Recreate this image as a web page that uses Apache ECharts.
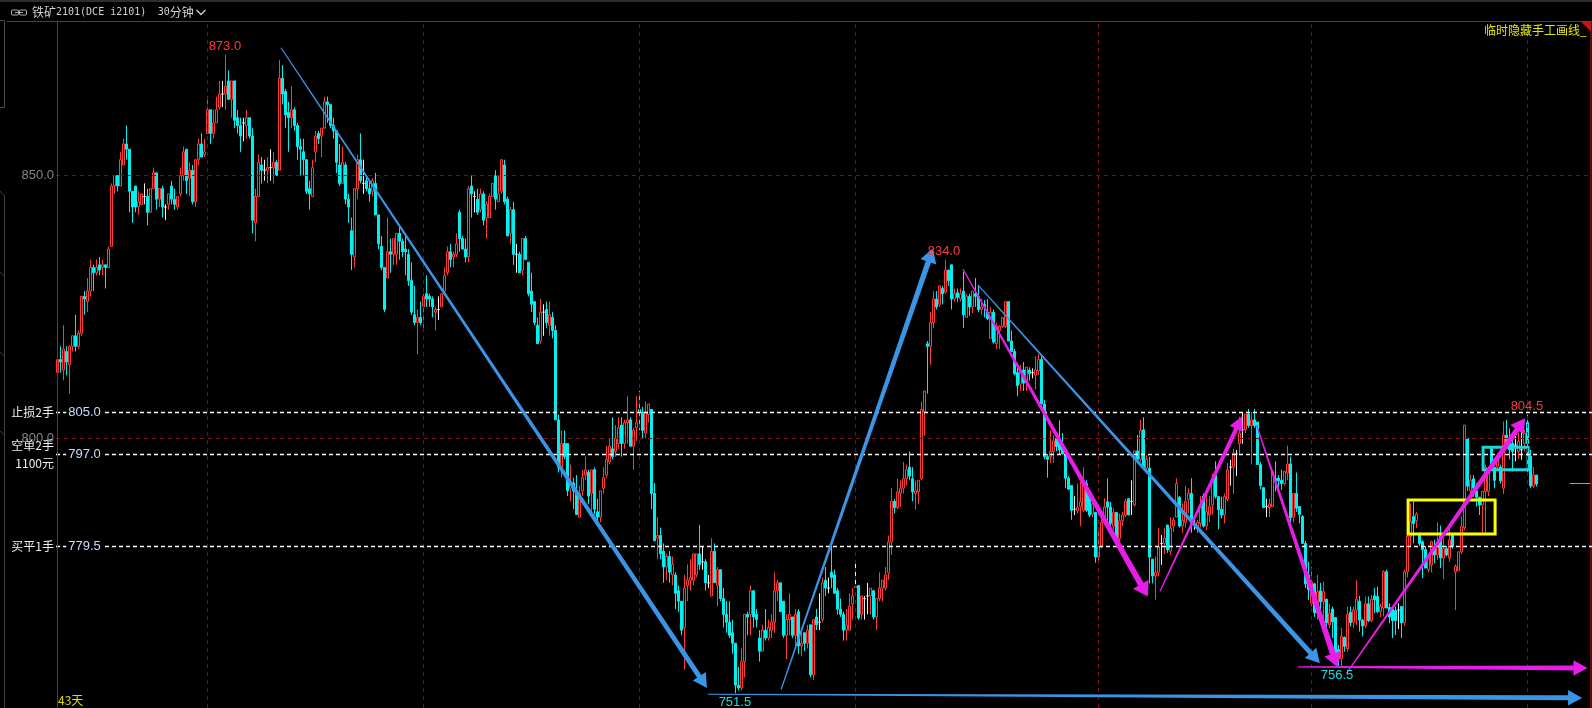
<!DOCTYPE html>
<html><head><meta charset="utf-8">
<style>html,body{margin:0;padding:0;background:#000;overflow:hidden}#c{width:1592px;height:708px}</style>
<script src="https://cdn.jsdelivr.net/npm/echarts@6/dist/echarts.min.js"></script>
</head><body><div id="c"></div>
<script>
// each row: open, close, low, high
const candleRows=[
[812.5,815,811.5,816.5],[815,814.5,812.5,817.5],[813,817,811,821.5],[816.5,814.5,812,817.5],[814,817.5,808.5,817.5],[817.5,819.5,816.5,819.5],[819.5,817.5,816.5,823.5],[817.5,820,817,820.5],[820,827,819.5,827],[827,826.5,823.5,828],
[826,828,824,830.5],[828,832.5,827,834],[832.5,831.5,828,833],[831.5,832.5,831,834],[833,832,831,834.5],[832.5,833,831,834],[833,832.5,828.5,833],[832.5,836,832.5,836.5],[836.5,848,836.5,848.5],[848,850,846.5,850],
[850,848,847,850],[848,853,848,854.5],[852,856,852,857],[856,855,853,859.5],[855,847,843,855],[847,844,841,847],[848,844,843,848],[844,845,842.5,847],[844.5,846.5,844.5,846.5],[846,846,844.5,848.5],
[846,843,840.5,847.5],[843,847.5,843,847.5],[847.5,850.5,847.5,851.5],[850.5,845.5,843.5,850.5],[845.5,847.5,844,847.5],[847.5,844,842,848],[844,844,841.5,844.5],[844.5,846.5,843.5,846.5],[848,845.5,844.5,849],[845.5,844.5,843.5,847.5],
[844,846,843.5,846],[846.5,850,846,851.5],[850,854.5,849,855.5],[855,849,846.5,855],[849.5,851,846,852.5],[851,845,844.5,852],[845,853,844,853],[853,856,852,857],[856,853.5,853.5,858],[854,854.5,853.5,857],
[858,862.5,858,865],[862.5,858,856,862.5],[858,860,857,862.5],[860,862.5,860,865],[863,865.5,862.5,868],[865.5,865.5,863,868],[865.5,867,862.5,873],[868,864.5,864.5,870],[864.5,868,861,868],[868,860.5,859,868],
[861,859.5,858,862.5],[859.5,857.5,854.5,861],[860,860,856.5,861],[859.5,861,857,862.5],[861,857.5,857,861],[857.5,841.5,839,859],[841,846,837.5,847.5],[846,852.5,846,854],[852,851,848.5,853.5],[851,851,849,853],
[851,851.5,848.5,853.5],[851.5,851.5,849,855],[851.5,852.5,848.5,854.5],[852.5,850,850,853],[851,868.5,851,872],[868.5,865.5,863.5,871],[866,861.5,859,866.5],[862,861,854.5,864],[861,862.5,859,867],[862.5,859.5,858.5,863],
[859.5,855.5,853,860],[855.5,855,850,857],[854.5,853,850,857],[853,847,846.5,853],[847.5,846.5,843.5,849],[846,851.5,846,853],[854.5,857.5,852.5,858.5],[858,857,856,858.5],[857.5,859,853.5,859],[859,864,859,865],
[864,863.5,860,865],[863.5,859.5,859,863.5],[859.5,858.5,857,861],[858.5,852.5,850.5,858.5],[852,848.5,848,856],[848.5,852.5,848.5,855.5],[852,845.5,844.5,852.5],[845.5,844,841,846.5],[839.5,835,832,842],[834.5,847.5,832.5,847.5],
[847.5,853,845.5,854],[853,849,848.5,858],[848.5,848.5,846.5,853],[849,847.5,847,850],[847.5,846.5,845,849],[847,849,846,849.5],[848.5,842.5,842.5,850.5],[842.5,837,836,842.5],[836.5,832.5,832,838.5],[832.5,824.5,824,832.5],
[830.5,835.5,830.5,842],[835.5,835,831.5,838],[835,838,833,838],[835,839,833,839],[839,837.5,834,840.5],[837.5,835.5,834.5,838],[836,835.5,831,839],[835,830,829,836],[830,824,823.5,833.5],[823.5,822,821.5,829],
[822,823,816,824.5],[823,822,821.5,826],[825,827,821,827.5],[827.5,826.5,825,831],[827,826.5,825,827.5],[826.5,825,823,827],[824,824.5,820.5,825],[824.5,824.5,822.5,827],[825,827.5,825,827.5],[828,831,827.5,832.5],
[831.5,835.5,831,836.5],[835.5,834,832.5,837],[834.5,835,832.5,835.5],[835,837,834.5,839],[843,838,835.5,843.5],[838,836,836,838.5],[836,834.5,833.5,838],[834.5,847.5,833.5,848],[848,846.5,842,850],[846,846,843,847],
[845.5,843,842.5,847.5],[843.5,846.5,843,847.5],[846.5,841.5,840.5,847],[842,844.5,838,845],[842,846,842,846.5],[846,848.5,846,848.5],[850,845.5,843.5,851],[845,846.5,845,850],[847,853,846.5,853],[852,845,844.5,853],
[845.5,838.5,838.5,846],[839,843.5,837,844],[843.5,835,833,845],[835,835,831.5,837],[835,831.5,831.5,835.5],[832,838,831,838],[838,834,834,838.5],[833.5,827.5,827,833.5],[828,825.5,824,831.5],[826,822,821.5,826],
[821.5,818,818,823],[818.5,824,818,826.5],[824,824,819.5,825.5],[824.5,822,821,826],[821.5,823.5,819.5,826],[823,820.5,819,824],[820.5,803.5,803.5,821.5],[803.5,794.5,793.5,804.5],[794.5,799,792.5,801.5],[799,796.5,796,801.5],
[799,790,789,799],[790.5,791.5,788,795],[791.5,790,786.5,792.5],[790,785.5,785.5,793],[785,789.5,785,791],[790,792.5,789,794],[793,794,792,796.5],[793.5,789,787.5,794],[789.5,794,786,794],[794,786.5,785.5,794.5],
[786,785,784,788.5],[785,790,784,790],[790.5,792.5,789.5,794.5],[793,796,792.5,798.5],[795.5,798.5,795,800],[798,796.5,796,804],[797.5,800,796.5,802.5],[799,802,798,804],[802.5,799,796.5,804],[799,803,798,803.5],
[803,803.5,799,808],[803.5,798.5,798.5,804],[798.5,801.5,794,802],[802,803,799.5,808],[805.5,805,801.5,809],[805,801.5,800,806],[801,805,800,807],[804.5,806.5,803,806.5],[805.5,789.5,786.5,805.5],[789.5,780.5,780.5,791.5],
[781,781.5,777,785],[781.5,778,777,783],[778.5,775.5,772.5,780],[775.5,777.5,773,778],[777.5,774.5,772.5,778.5],[774,776,772,777.5],[774,770.5,767.5,774.5],[771,769,767,772],[769,763.5,762.5,769],[764,771.5,756,774],
[772,773,769,776],[773,773.5,771,777],[773,778,772,778],[774,778,773.5,778],[778,776,775,783.5],[776.5,776.5,775,779.5],[776.5,772.5,771,777],[772.5,772.5,771.5,774],[770,778.5,770,781],[778.5,772.5,772.5,780],
[772,775,768,775.5],[775,769.5,769,775],[769.5,766.5,764,771.5],[766.5,765,763,769],[765,762.5,762,769],[763,761,759,765.5],[761,753,751.5,761],[753,752.5,752,756.5],[752.5,757.5,752,760],[757.5,766.5,754.5,766.5],
[766.5,766,762.5,767],[766.5,771,762.5,772],[771,766,764,771],[766.5,765.5,764,767.5],[762,759.5,757.5,763.5],[759.5,763.5,759.5,764.5],[763.5,762,761.5,767.5],[762,764,761.5,765.5],[763.5,765,762,766.5],[765,771,763,774.5],
[771,772.5,769,773],[772.5,767,767,772.5],[769,762.5,762,769],[762.5,765.5,758,766.5],[765.5,766.5,762.5,770.5],[766,762.5,762,766],[762.5,766.5,760,767.5],[767,760.5,759,767.5],[760.5,761,758.5,764],[763,761,759.5,763],
[761,763.5,760,764.5],[764.5,755,754.5,764.5],[755,765.5,754,765.5],[766,764.5,763.5,767.5],[765,765,763.5,770.5],[765.5,772.5,765,773.5],[773,771.5,770,775.5],[771.5,771.5,770.5,773.5],[774.5,773.5,771.5,779.5],[774,770.5,770.5,775],
[771,767.5,766.5,771.5],[767.5,766.5,766,769.5],[766.5,763.5,761.5,767],[763.5,764.5,761.5,767.5],[763.5,768,763.5,770.5],[768.5,770,765.5,771.5],[771.7,771.7,771.5,776.5],[772,765.8,765.5,772],[766.5,770,765.5,770],[769.5,769.5,765.5,770],
[770,770,766.5,772.5],[770,771.5,766.5,771.5],[771,766,765.5,771],[766,769.5,763.5,769.5],[769.5,771.5,769,774.5],[771.5,773,769,773],[771.5,774,771,775.5],[774.4,780.3,773,781.5],[780.3,788,777.8,790.5],[788,786.8,785.7,788.5],
[786.8,789.8,786.5,792.3],[789.5,790.5,787,792],[790.5,792.3,789.5,795.5],[792.3,794,791,795],[794.5,792.8,792,797.5],[792.3,789.8,788,794.5],[789.5,790,786.5,792],[789.8,792,787.5,792],[792.3,805.5,792,807],[805,809,800.5,809],
[818,817.5,808.5,818.5],[817.5,822,814,824],[822,826.5,821,828],[826.5,825,824.5,828],[825.5,829,825,829],[828.5,827.5,825.5,829],[827.8,832,827.5,834],[832,830,829,832],[833,826.5,824.5,833],[826.5,827.5,826,828.5],
[827.7,826.8,826,828.5],[826.5,827.5,826,828.5],[828,823.5,821,831.7],[823,827,823,827.5],[827,825,823.3,827.5],[825,828,823.8,828],[827.5,827,825,830.5],[827,824.5,824,829],[824.5,825,823.5,826.5],[825.5,825,823,826.3],
[824,822.8,822.5,826.5],[819,824,819,825],[824,818.3,818,824.5],[818,821.3,817,822],[820.5,821.3,817,821.5],[821.3,823,821,823],[821.3,826,821,826],[826,818.5,818.5,826],[818.5,816.5,816.5,820.5],[816.5,812.3,812,817],
[812.5,810,808,814],[810.3,813,809,814],[813,810.5,809,814.5],[810.5,813.5,809,813.5],[813,812.3,811,813.5],[812.5,812.5,811.4,813.3],[812,813,809.3,815.6],[812.8,815,812,816],[815,806.5,806.5,815.8],[806.5,796.5,796,807.3],
[796.5,796,792.5,797],[796.5,797.5,795.3,801.5],[797.5,799.5,795.3,800.5],[800,798.4,797.5,801.2],[799.3,797.8,797,803.4],[798.4,797,797,801],[796.8,792.4,790.5,797],[792.4,790.3,790.3,792.8],[791,786.3,784.5,791],[786.5,786.5,785.4,789],
[786.3,786.8,785.7,791.4],[787,787.9,783.3,791.7],[786.3,791.7,786,794.5],[791.4,786.3,786,792],[789.2,785.4,785,790],[785.6,787.5,785,788.5],[785.9,777.4,776.3,786],[777.4,779.4,776.3,783],[779.4,784,779,786],[784,786.9,783.5,788.6],
[787.9,786.9,784,792.4],[786.9,783.8,783.2,787.9],[783.3,785.9,782.6,786.7],[785.9,780.9,780.3,785.9],[780.9,784.3,780.3,785.7],[784.3,785.4,783.3,786],[785.4,788,785,788.5],[788.5,785.4,785.4,788.5],[788,788,785.4,792],[787.3,797.6,787,797.6],
[797.6,796,796,800.6],[796,801.5,795.5,803.5],[801.6,794.3,794,804],[794.3,796,794,796.8],[794.3,777.4,772.4,796.5],[777,773.8,772.4,777],[773.8,774.5,769.3,777.5],[774.5,779.4,773.7,782.9],[780,780,775.9,781.6],[780,781,778,783],
[783.5,778.8,778.2,783.5],[778.5,782.9,777.8,785],[783.3,784.4,782.2,785],[785,791.4,785,792.4],[788.8,783.3,783,789],[783.3,784.4,782,787.6],[784,788,783,791],[788.3,789.5,785.7,790.5],[789.5,783.7,782,792.4],[783.5,783.5,782.6,784.5],
[783.3,784,782,784.5],[783.8,787,783,789],[789,783.3,783,789.5],[783.3,786,782.5,789.5],[785.4,787,784,789],[787.3,792,785.5,793.2],[793,788.9,788.5,795.6],[788.9,786.4,782.7,788.9],[786.5,785.4,784.8,788.9],[785.4,788.9,783.8,789.5],
[788.4,794,788,795.3],[794.5,794.5,791,795.9],[794.5,797.2,789.4,798],[797,797,792.8,797.8],[799,801,796.8,804.1],[801.6,801.6,799,805],[801.6,804.6,801,804.6],[804.6,802.4,802,805.6],[802.4,803.5,795,805],[803.5,802.4,802,805.6],
[803.1,795,795,803.1],[795,791,790.3,795.5],[790.6,786.8,786.8,790.6],[787,787,785,788.5],[786.8,787.5,785,788.5],[787,793.7,787,794],[792.4,791.9,789.9,795.6],[792.4,791.9,790.5,793],[792,791.4,790.2,794],[791.4,793.7,791,793.7],
[793.4,795.1,792,798.6],[795.1,784.9,784,796.5],[785,789.5,784,789.5],[789.5,786.7,786,793.5],[787,785.5,783.8,787],[785.1,780,780,785.4],[780,772.3,771.5,780.5],[774,771.2,769.2,776.5],[768.6,772.7,768,775.5],[772.3,766.8,766,772.5],
[766.7,770.8,765.5,774],[771,768.9,767.3,772.5],[768.9,770.8,764.2,772.7],[769.4,764.9,762.9,769.4],[764.5,766.7,763.9,768.5],[767.5,765.1,762,768],[765.9,758.5,757.8,765.9],[759.8,758.1,756.6,760.7],[758.1,762.3,756.6,763.9],[762.1,760.4,759.4,762.3],
[760,766.5,759.4,768],[766.9,764.9,764.2,768],[765,767.3,763.9,768],[767.3,769.4,764.5,773],[769,765.4,763.2,770],[765.4,764.3,762.3,765.6],[764.3,768.5,763.9,769.9],[768.5,765.3,765,769.9],[765.3,769.4,765,770.2],[770,769.3,766.7,771.5],
[769.9,767,766.7,771.8],[767,768,766,768.5],[767.7,774.6,766.1,774.9],[774.6,767.7,767.7,775],[767.8,766,764.8,768.6],[767.5,765.3,762,767.5],[767.2,765.3,762.6,768],[767.3,767.3,763.7,768.6],[768,764.9,762,768],[764.9,774.6,764.3,775],
[774.6,781.3,773.5,783],[781.3,784.2,779.5,787.6],[785.1,783.8,780,788],[784.3,785.6,782.9,786],[781.8,780,779.5,782],[780.3,778.8,773.4,780.6],[778.8,775.3,775.3,779.5],[775,777.5,774.5,778],[775.9,780.3,774.5,780.5],[779.2,777.8,776.2,780.7],
[777.8,780,776.9,784],[781.3,777.2,775.3,783.4],[777.2,779,773.2,781],[779,777.8,777.5,779.5],[777.2,780.7,776.5,782.9],[781.6,779.4,779,782],[774.6,775.6,767.3,776],[774.8,778.4,774.8,778.4],[778.4,783.2,778,785.1],[783,802.5,782.5,802.5],
[800,790.9,790,800],[790,792,788.3,793],[792.3,790.5,788.9,793],[790,788.8,787,791.4],[788.8,787.3,785.4,788.8],[787.3,789.9,781.9,790],[789.9,794.5,781.9,795],[789.9,794.3,789,794.6],[798.1,794.5,794,798.5],[794.5,792,790.5,794.5],
[794.5,796.5,794,797],[794.5,791.9,791.4,795],[790.5,800.6,789.4,803.2],[800.6,798.7,798,803.5],[799.7,797.8,796,801.9],[799,797.5,793.7,800],[798.7,798.7,795.6,801.6],[797.5,799.4,796,801],[797.8,797.8,795.9,801.6],[799,801,797.5,801.6],
[803,799,793.5,804.5],[796.6,790.9,790.5,797.8],[790.9,793,790.5,794.5],[793,791.3,790.8,793]
];
const categoryCount=512;
const categories=Array.from({length:categoryCount},(_,i)=>String(i));
const priceGridLevels=[850,800];
const orderLevels=[805,797,779.5];
const axisLabelValues=[779.5,797,800,805,850];
const axisSideText={805:'止损2手',797:'空单2手\n1100元',779.5:'买平1手'};
const dayBreaks=[50,122,194,266,347,418,490];
// trend strokes: start bar, start price, end bar, end price
const trendStrokes=[[74.5,874.3,216.5,752.5],[241.2,752.2,291.8,836.1],[306.8,829.2,420.8,757.2],[216.8,751.3,508.2,750.6],[301.8,832.2,363.4,769.9],[367.5,770.9,394.9,804.2],[399.7,802.5,426.6,756.5],[413.5,756.5,510,756.3],[429.7,755.3,489.2,803.8]];
const strokeKinds=['blue','blue','blue','blue','magenta','magenta','magenta','magenta','magenta'];
const boxes=[[450.2,788.25,479.2,781.8],[475.2,798.3,490.2,794]];
const priceNotes=[[55.8,874.5],[295.5,835.6],[225.8,749.8],[426.5,754.8],[489.8,806],[9,805],[9,797],[9,779.5]];
const priceNoteText=['873.0','834.0','751.5','756.5','804.5','805.0','797.0','779.5'];
const lastPriceMark=[504,791.5,510.5];

const STROKE={blue:'#3b95e6',magenta:'#e81ee8'};
const strokeEndWidth=[5,5.5,5,5,6,4.5,6,5,5.5];
const boxColor=['#ffff00','#1fd5d5'];
const noteColor=['#ff3a3a','#ff3a3a','#12e0e0','#12e0e0','#ff3a3a','#c8dcff','#c8dcff','#c8dcff'];
const RED_FRAME='#b81414';

const chart=echarts.init(document.getElementById('c'),null,{renderer:'canvas'});
chart.setOption({
 animation:false,backgroundColor:'#000',
 grid:{left:56,right:0,top:21.5,bottom:0,containLabel:false},
 xAxis:[
  {type:'category',data:categories,boundaryGap:true,show:true,axisLine:{show:false},axisTick:{show:false},axisLabel:{show:false},splitLine:{show:false}},
  {type:'value',min:-0.5,max:categoryCount-0.5,show:false,splitLine:{show:false}}
 ],
 yAxis:{type:'value',min:748.68,max:879.3,scale:true,axisLine:{show:false},axisTick:{show:false},splitLine:{show:false},
  axisLabel:{show:true,margin:2,hideOverlap:false,customValues:axisLabelValues,
   formatter:v=>axisSideText[v]?axisSideText[v].split('\n').map(t=>'{s|'+t+'}').join('\n'):'{g|'+v.toFixed(1)+'}',
   rich:{s:{color:'#eeeeee',fontSize:12,lineHeight:18,fontFamily:'"Noto Sans CJK SC"',align:'right'},
         g:{color:'#7c8791',fontSize:13,fontFamily:'"Liberation Sans"',align:'right'}}}},
 series:[
  {type:'candlestick',data:candleRows,xAxisIndex:0,yAxisIndex:0,barWidth:3,clip:true,
   itemStyle:{color:'#000',color0:'#00f0f0',borderColor:'#ff3a3a',borderColor0:'#00f0f0',borderColorDoji:'#f0f0f0',borderWidth:1},
   markLine:{silent:true,symbol:'none',animation:false,label:{show:false},
    data:[
     ...dayBreaks.map(b=>({xAxis:b,lineStyle:{color:'#820b0b',type:[4,4],width:1}})),
     ...priceGridLevels.map(v=>({yAxis:v,lineStyle:{color:'#820b0b',type:[4,4],width:1}})),
     ...orderLevels.map(v=>({yAxis:v,lineStyle:{color:'#ffffff',type:[4,3],width:1.3}})),
     [{coord:[lastPriceMark[0],lastPriceMark[1]],lineStyle:{color:'#b8a800',type:'solid',width:1}},{coord:[lastPriceMark[2],lastPriceMark[1]]}]
    ]}},
  {type:'custom',xAxisIndex:1,yAxisIndex:0,data:trendStrokes,clip:false,z:5,silent:true,
   encode:{x:[0,2],y:[1,3]},
   renderItem(p,api){
    const i=p.dataIndex,a=api.coord([api.value(0),api.value(1)]),b=api.coord([api.value(2),api.value(3)]);
    const dx=b[0]-a[0],dy=b[1]-a[1],L=Math.hypot(dx,dy),ux=dx/L,uy=dy/L,nx=-uy,ny=ux;
    const w1=strokeEndWidth[i],hl=14,hw=w1*1.15+2;
    const n=[b[0]-ux*hl,b[1]-uy*hl];
    const pts=[[a[0]+nx*.6,a[1]+ny*.6],[n[0]+nx*w1/2,n[1]+ny*w1/2],[n[0]+nx*hw,n[1]+ny*hw],b,[n[0]-nx*hw,n[1]-ny*hw],[n[0]-nx*w1/2,n[1]-ny*w1/2],[a[0]-nx*.6,a[1]-ny*.6]];
    return {type:'polygon',shape:{points:pts},style:{fill:STROKE[strokeKinds[i]],lineWidth:0}};
   }},
  {type:'custom',xAxisIndex:1,yAxisIndex:0,data:boxes,clip:false,z:4,silent:true,
   encode:{x:[0,2],y:[1,3]},
   renderItem(p,api){
    const a=api.coord([api.value(0),api.value(1)]),b=api.coord([api.value(2),api.value(3)]);
    return {type:'rect',shape:{x:a[0],y:a[1],width:b[0]-a[0],height:b[1]-a[1]},style:{fill:'none',stroke:boxColor[p.dataIndex],lineWidth:3}};
   }},
  {type:'custom',xAxisIndex:1,yAxisIndex:0,data:priceNotes,clip:false,z:6,silent:true,
   encode:{x:0,y:1},
   renderItem(p,api){
    const a=api.coord([api.value(0),api.value(1)]);
    const lvl=p.dataIndex>=5;
    return {type:'text',x:a[0],y:a[1],style:{text:priceNoteText[p.dataIndex],fill:noteColor[p.dataIndex],font:'13px "Liberation Sans"',textAlign:'center',textVerticalAlign:'middle',backgroundColor:lvl?'#000':null,padding:lvl?[0,2]:0}};
   }}
 ],
 graphic:[
  {type:'rect',silent:true,shape:{x:0,y:0,width:1592,height:2},style:{fill:'#2b2f35'}},
  {type:'line',silent:true,shape:{x1:7,y1:21.5,x2:1592,y2:21.5},style:{stroke:RED_FRAME,lineWidth:1}},
  {type:'line',silent:true,z:10,shape:{x1:57.5,y1:21.5,x2:57.5,y2:708},style:{stroke:RED_FRAME,lineWidth:1}},
  {type:'line',silent:true,shape:{x1:1591,y1:21.5,x2:1591,y2:708},style:{stroke:RED_FRAME,lineWidth:1}},
  {type:'polygon',silent:true,shape:{points:[[1580.7,21.5],[1591,21.5],[1591,31.7]]},style:{fill:'#c41414'}},
  {type:'polyline',silent:true,shape:{points:[[0,20.5],[4.5,20.5],[4.5,107.5],[0,107.5]]},style:{stroke:'#4a4a4a',fill:'none',lineWidth:1}},
  {type:'polyline',silent:true,shape:{points:[[0,191],[4.5,196],[4.5,708]]},style:{stroke:'#3e3e3e',fill:'none',lineWidth:1}},
  {type:'line',silent:true,shape:{x1:0,y1:272,x2:4.5,y2:276},style:{stroke:'#3e3e3e'}},
  {type:'line',silent:true,shape:{x1:0,y1:352,x2:4.5,y2:356},style:{stroke:'#3e3e3e'}},
  {type:'line',silent:true,shape:{x1:0,y1:431,x2:4.5,y2:435},style:{stroke:'#3e3e3e'}},
  {type:'rect',silent:true,shape:{x:11.5,y:10,width:7,height:5,r:1},style:{fill:'none',stroke:'#b0b0b0',lineWidth:1}},
  {type:'rect',silent:true,shape:{x:19.5,y:10,width:7,height:5,r:1},style:{fill:'none',stroke:'#b0b0b0',lineWidth:1}},
  {type:'line',silent:true,shape:{x1:15,y1:12.5,x2:23,y2:12.5},style:{stroke:'#b0b0b0'}},
  {type:'text',silent:true,x:32,y:12,style:{text:'{c|铁矿}{m|2101(DCE i2101)}',textVerticalAlign:'middle',rich:{c:{fontSize:12,fontFamily:'"Noto Sans CJK SC"',fill:'#d2d2d2',color:'#d2d2d2'},m:{fontSize:10,fontFamily:'"DejaVu Sans Mono"',fill:'#d2d2d2',color:'#d2d2d2'}}}},
  {type:'text',silent:true,x:157.7,y:12,style:{text:'{m|30}{c|分钟}',textVerticalAlign:'middle',rich:{c:{fontSize:12,fontFamily:'"Noto Sans CJK SC"',color:'#d2d2d2',fill:'#d2d2d2'},m:{fontSize:10,fontFamily:'"DejaVu Sans Mono"',color:'#d2d2d2',fill:'#d2d2d2'}}}},
  {type:'polyline',silent:true,shape:{points:[[196.5,10],[201,14.5],[205.5,10]]},style:{stroke:'#d2d2d2',fill:'none',lineWidth:1.3}},
  {type:'text',silent:true,z:12,x:1484,y:30,style:{text:'临时隐藏手工画线_',font:'12px "Noto Sans CJK SC"',fill:'#e6e600',textAlign:'left',textVerticalAlign:'middle'}},
  {type:'text',silent:true,z:12,x:58,y:700,style:{text:'43天',font:'12px "Noto Sans CJK SC"',fill:'#dcdc00',textAlign:'left',textVerticalAlign:'middle'}}
 ]
});
</script></body></html>
